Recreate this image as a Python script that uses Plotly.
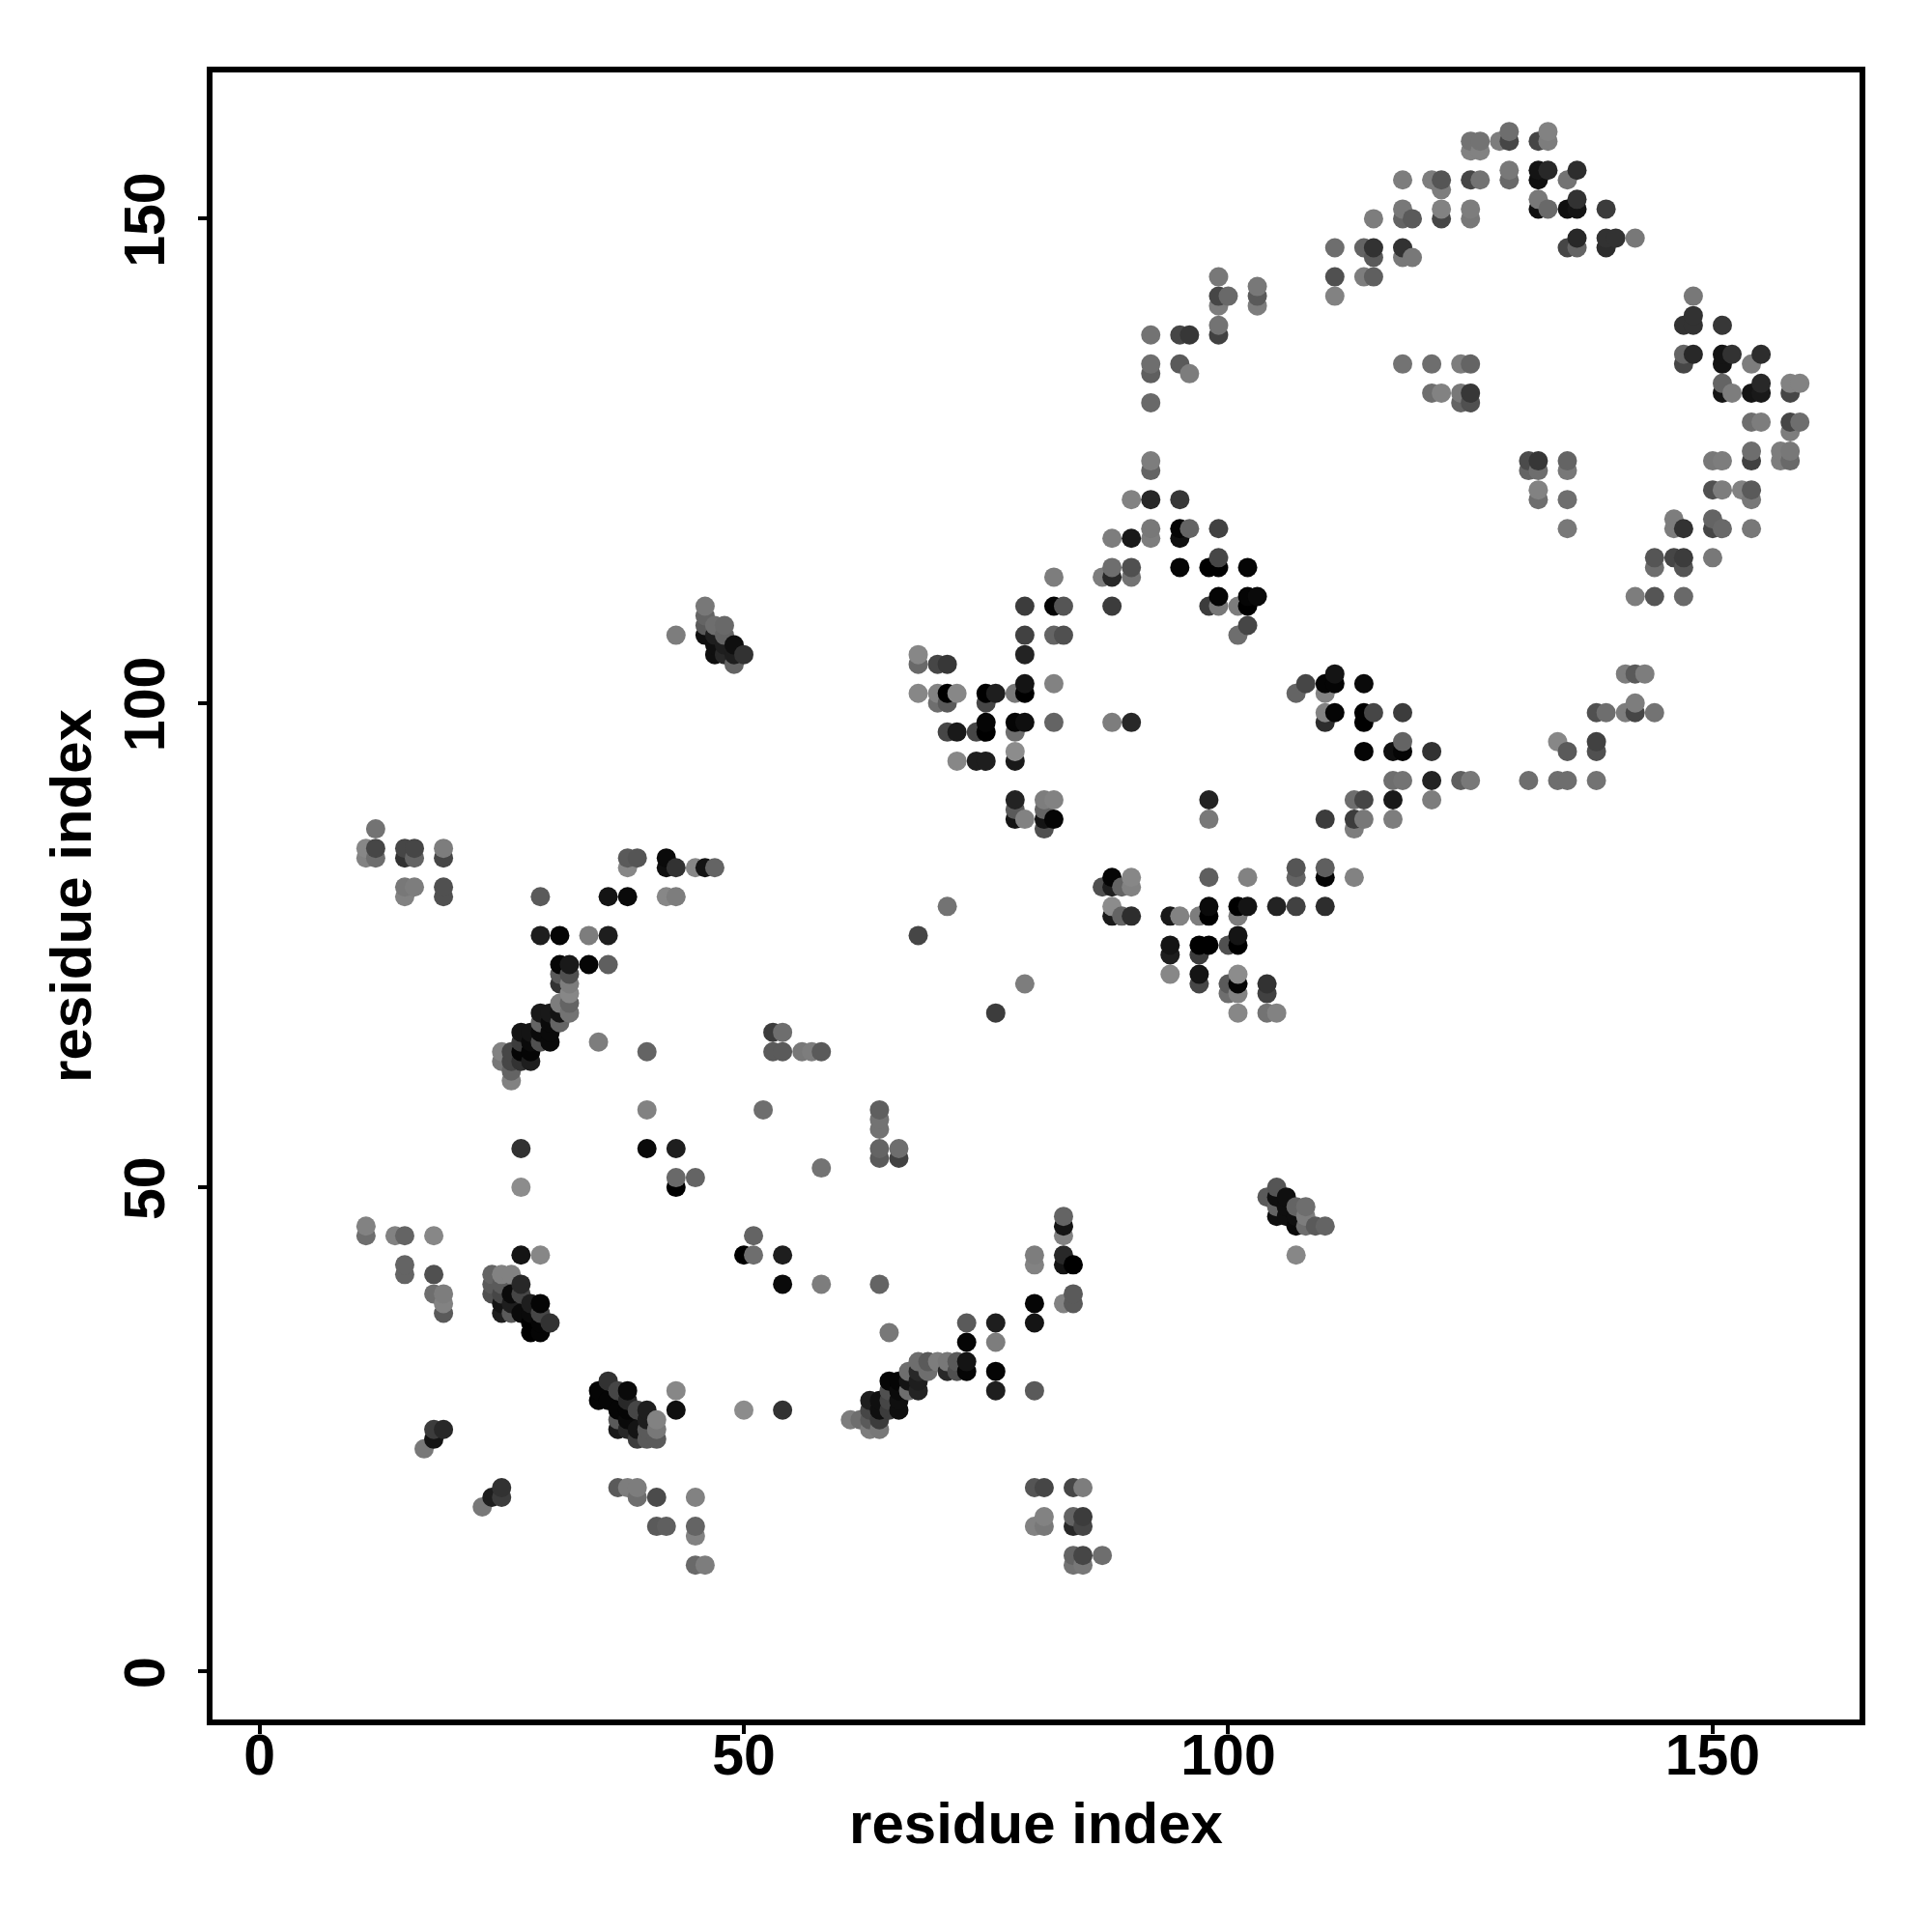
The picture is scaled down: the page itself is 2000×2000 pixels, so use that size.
import numpy as np
import plotly.graph_objects as go

residue_i = [
 11,11,14,15,18,27,29,51,50,51,15,15,18,18,19,19,19,
 24,25,26,24,24,25,27,25,26,27, 25,26,28,29,25,26,27,28,29,30, 28,29,28,29,
 36,35,37,38,35,36,38,37,38,39, 40,37,38,40,41,37,38,39,41,40, 39,40,41,43,43,50,
 18,19,18,17,25,24,25,23,37,38, 39,39,41,45,41,42,45,45,45,46,
 58,54,54,58,64,65,73,76,73,76, 80,80,80,80,83,83,83,83,83,84, 84,84,83,73,73,76,76,80,54,
 68,69,70,71,72,67,68,69,71,72, 65,66,67,68,65,66,67,68,63,64, 65,66,63,64,65,66,61,62,63,64, 63,64,
 80,81,84,85,81,80,81,84,85,84, 85,84,85,87,84,85,
 12,11,12,11,12,15,16,15,16,19, 19,15,16,15,19,19,
 29,36,38,42,43,38,39,38,42,42, 43,45,46,47,29,31,34,36,31,32, 34,36,
 31,32,31,32,32,31,32,32,29,30, 31,31,29,30,27,28,29,30,30,29, 27,28,25,26,27,28,25,26,27,28, 26,26,
 35,40,40,52,27,40,43,43,45,43, 27,
 76,79,53,54,53,54,56,57,58,64, 64,64,64,64,66,66,
 82,87,88,88,90,90,95,98,99,99, 102,79,82,83,88,98,99,99,101,102, 103,102,102,101,79,82,83,79,68,68,
 70,71,79,79,78,82,68,70,71,72, 70,71,75,76,75,75,78,79,78,75, 74,71,72,82,88,90,78,78,72,74,
 75,78,81,82,78,81,78,79,81,82, 81,98,98,107,108,110,110,110,110,110,
 98,102,107,107,110,110,113,113,88,90, 87,88,89,90,88,88,89,90,94,95, 97,98,98,101,102,101,105,107,110,94,
 94,97,98,97,100,101,101,94,97,97, 100,101,101,100,101,104,104,101,104,105, 68,71,
 92,92,90,92,95,88,90,92,92,95, 96,95,99,111,111,114,
 111,114,115,114,118,114,118,117,118,121, 117,118,121,124,125,131,134,135,138,134,
 135,138,138,141,142,143,138,139,141,142, 142,144,113,114,117,121,113,114,117,
 99,103,99,100,99,103,103,111,114,115, 111,92,95,96,99,99,92,92,95,96,
 92,118,121,124,125,121,122,124,125,124, 125,131,132,131,132,132,132,135,135,135, 135,
 125,126,125,126,128,129,129,132,133,133, 118,121,122,122,125,126,129,129,132,133,
 132,136,135,118,119,118,122,122,125,125, 132,132,133,135,136,136,139,136,135,136,
 139,140,139,142,111,114,115,115,115,118, 119,118,
 148,147,148,148,151,147,148,147,151,152, 151,155,154,151,151,152,154,155,155,158,
 159,158,154,155,158,159,158,150,151,154, 154,157,158,157,158,150,151,153,154,154,
 146,146,147,150,150,151,154,144,146,147, 150,144,147,142,144,147,
 105,104,105,106,105,106,107,108,105,106, 107,108,107,108,109,110,107,
 43,46,46,46,47,48,46,47,48,47, 49,48,47,48,50,49,49,
]

residue_j = [
 46,45,45,45,45,43,43,45,43,43,42,41,41,39,39,38,37,
 41,41,41,40,39,40,40,39,39,39, 38,38,38,38,37,37,37,37,37,36, 36,36,35,35,
 30,29,29,29,28,28,28,27,27,27, 27,26,26,26,26,25,25,25,25,25, 24,24,24,29,27,27,
 25,25,24,23,19,18,18,17,19,19, 19,18,18,18,15,15,15,14,11,11,
 52,43,40,40,40,35,36,36,34,34, 38,36,43,42,47,46,45,43,42,42, 39,38,38,32,31,31,29,29,27,
 32,32,32,32,32,31,31,31,31,31, 30,30,30,30,29,29,29,29,28,28, 28,28,27,27,27,27,26,26,26,26, 25,25,
 19,19,19,19,16,15,15,16,16,15, 15,12,12,12,11,11,
 87,85,85,84,84,85,85,84,84,85, 84,81,81,80,81,80,
 80,80,80,80,80,84,84,83,84,83, 83,83,83,83,76,76,76,76,73,73, 73,73,
 72,72,71,71,70,69,69,68,68,68, 68,67,67,67,66,66,66,66,65,65, 65,65,64,64,64,64,63,63,63,63, 62,61,
 65,64,58,58,54,54,54,51,51,50, 50,
 68,71,66,66,64,64,64,64,64,58, 57,56,54,53,54,53,
 113,113,114,113,114,113,114,114,114,115, 114,110,110,110,110,110,111,110,110,111, 111,110,108,107,107,107,107,105,105,104,
 104,104,102,101,101,102,101,101,101,101, 100,100,101,101,100,98,98,98,97,97, 97,97,97,98,98,98,95,94,94,94,
 94,90,90,90,89,89,88,88,88,88, 87,90,88,101,102,102,101,99,98,88,
 82,82,83,82,83,82,82,87,82,82, 81,81,81,81,79,78,78,78,78,78, 78,79,78,79,79,78,79,79,79,75,
 74,75,75,74,75,76,75,72,72,71, 71,72,71,70,70,71,70,68,68,68, 76,79,
 125,124,121,121,121,117,117,118,117,118, 118,117,118,103,102,102,
 99,99,99,98,99,95,96,95,95,95, 92,92,92,92,92,92,92,92,92,96,
 95,96,95,103,103,103,99,99,99,100, 99,99,90,90,90,90,88,88,88,
 144,143,142,142,141,142,141,144,144,144, 142,138,138,138,139,138,135,134,135,134,
 131,135,135,135,135,132,132,132,132,131, 131,125,125,124,124,122,121,125,124,121, 118,
 158,158,157,157,158,159,158,158,159,158, 154,154,154,153,154,154,155,154,155,155,
 154,155,154,151,150,150,151,150,151,150, 152,151,151,151,152,151,151,148,147,147,
 148,148,147,148,147,147,147,146,150,147, 146,146,
 142,139,140,139,139,136,136,135,136,136, 135,136,135,133,132,132,132,133,132,133,
 133,132,129,129,129,129,128,125,125,126, 125,126,126,125,125,122,122,122,122,121,
 119,118,118,119,118,118,118,115,115,115, 115,114,114,111,111,111,
 50,49,49,49,48,48,48,48,47,47, 47,47,46,46,46,46,43,
 107,110,109,108,108,108,107,107,107,106, 106,106,105,105,105,105,104,
]

contact_shade = [
 130,110,130,100,135,20,135,100,0,110,100,100,80,110,125,130,90,
 100,130,130,90,80,90,40,70,10,70, 20,30,30,5,30,90,10,10,70,50, 0,5,0,5,
 50,5,70,10,5,5,40,5,5,70, 30,90,10,30,130,25,40,20,120,90, 60,90,90,135,15,140,
 60,40,20,120,50,30,60,120,90,125, 125,110,75,130,90,95,100,130,105,125,
 115,30,10,125,100,120,90,30,5,125, 5,20,125,130,100,20,130,40,20,0, 90,90,130,20,5,5,30,90,50,
 110,90,125,120,90,110,40,110,40,80, 5,5,20,30,80,10,110,35,30,15, 70,15,70,15,60,15,125,110,90,60, 125,120,
 85,70,70,125,130,130,120,100,60,40, 70,100,70,110,115,120,
 115,135,70,130,110,70,70,50,100,125, 70,120,125,130,80,80,
 90,20,10,135,125,90,85,135,10,15, 50,135,20,100,30,5,125,30,5,25, 5,95,
 90,80,50,125,135,125,100,115,25,25, 20,100,100,10,20,20,10,10,10,80, 60,10,130,70,5,5,120,70,50,30, 100,130,
 125,100,130,110,50,10,30,105,100,0, 140,
 60,125,60,110,90,90,120,125,90,95, 115,115,100,90,110,65,
 125,125,110,40,80,115,5,0,0,70, 5,60,5,85,60,60,5,120,125,5, 10,0,70,110,65,100,80,35,135,105,
 70,55,20,0,120,130,135,130,0,135, 110,90,0,30,70,5,5,15,110,0, 70,70,25,100,125,40,140,25,135,30,
 30,35,125,130,90,100,20,130,20,5, 80,35,120,100,70,5,130,130,45,60,
 95,130,85,100,95,5,130,125,5,135, 80,30,100,130,140,25,100,45,25,130, 125,10,0,0,20,125,35,65,45,20,
 30,0,0,60,80,20,0,135,20,70, 90,140,5,110,130,50,65,135,115,130, 70,115,
 125,100,130,40,55,125,25,120,125,5, 100,15,65,20,5,10,
 5,0,70,0,60,5,100,15,5,50, 110,115,35,95,120,110,110,110,115,135,
 90,65,80,125,90,125,80,110,125,125, 70,115,110,70,25,125,60,120,125,
 120,120,70,105,125,90,125,80,125,95, 130,115,70,55,115,65,110,95,90,125,
 105,115,110,125,100,110,130,120,55,100, 80,75,55,100,110,130,110,100,120,110, 120,
 115,115,130,130,125,110,70,70,130,125, 125,125,85,125,70,115,120,105,20,40,
 15,45,115,120,90,100,130,70,125,120, 120,15,105,15,50,20,60,40,70,100,
 50,50,45,120,110,100,50,90,125,50, 120,120,
 120,50,50,50,55,100,40,70,20,50, 20,45,125,100,20,125,20,40,25,130,
 130,70,110,125,70,110,125,120,125,110, 65,125,120,125,105,80,125,130,90,120,
 125,125,50,100,70,105,120,85,70,60, 120,110,85,125,85,105,
 85,90,15,15,100,15,100,110,15,15, 15,125,10,110,90,100,135,
 125,120,100,90,110,105,15,30,100,15, 15,30,15,40,50,30,100,
]

assert len(residue_i) == len(residue_j) == len(contact_shade)

tick_values = [0, 50, 100, 150]
tick_labels = ["0", "50", "100", "150"]
axis_label = "residue index"

draw_order = np.lexsort((residue_j, residue_i))
xs = np.array(residue_i)[draw_order]
ys = np.array(residue_j)[draw_order]
shades = np.array(contact_shade)[draw_order]

fig = go.Figure(go.Scatter(
    x=xs, y=ys, mode="markers",
    marker=dict(size=20, color=shades, cmin=0, cmax=255,
                colorscale=[[0, "rgb(0,0,0)"], [1, "rgb(255,255,255)"]],
                showscale=False, line=dict(width=0)),
    hoverinfo="skip",
))

FONT = "Liberation Sans"
axis_common = dict(
    tickmode="array", tickvals=tick_values, ticktext=tick_labels,
    showgrid=False, zeroline=False, showline=True, mirror=True,
    linecolor="black", linewidth=6, ticks="outside", ticklen=9, tickwidth=4,
    tickcolor="black",
    tickfont=dict(family=FONT, size=59, color="black", weight=700),
)
fig.update_layout(
    width=2000, height=2000,
    margin=dict(l=212, r=82.5, t=66.5, b=228, autoexpand=False),
    paper_bgcolor="white", plot_bgcolor="white", showlegend=False,
    xaxis=dict(range=[-4.84, 165.16], ticklabelstandoff=-29,
               title=dict(text=axis_label, standoff=19,
               font=dict(family=FONT, size=60, color="black", weight=700)), **axis_common),
    yaxis=dict(range=[-4.94, 165.1], tickangle=-90, ticklabelstandoff=11, ticklabelshift=10,
               title=dict(text=axis_label, standoff=5,
               font=dict(family=FONT, size=60, color="black", weight=700)), **axis_common),
)
fig.write_html("out.html")
